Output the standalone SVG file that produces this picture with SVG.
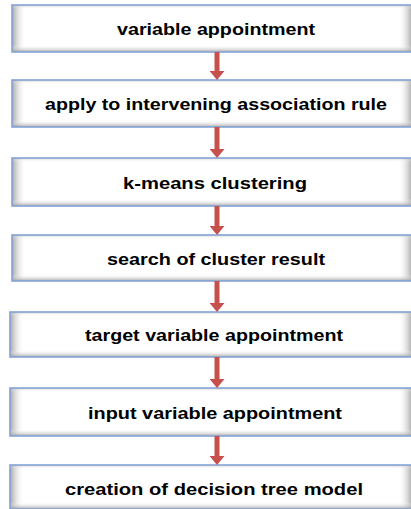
<svg xmlns="http://www.w3.org/2000/svg" width="411" height="509" viewBox="0 0 411 509">
<style>
.base{fill:#ffffff}
.sl{fill:url(#gl)}
.sr{fill:url(#gr)}
.sb{fill:url(#gb)}
.st{fill:url(#gt)}
.bd{fill:none;stroke:#86a4d6;stroke-width:1.6}
.lbl{font-family:"Liberation Sans",Arial,sans-serif;font-weight:bold;font-size:17px;fill:#000;text-anchor:middle}
.arr{stroke:#c5504c;stroke-width:5;fill:none;marker-end:url(#ah)}
</style>
<defs>
<linearGradient id="gl" x1="0" y1="0" x2="1" y2="0">
<stop offset="0" stop-color="#9a9a9a" stop-opacity="0.9"/>
<stop offset="1" stop-color="#ffffff" stop-opacity="0"/>
</linearGradient>
<linearGradient id="gr" x1="1" y1="0" x2="0" y2="0">
<stop offset="0" stop-color="#a0a0a0" stop-opacity="0.9"/>
<stop offset="1" stop-color="#ffffff" stop-opacity="0"/>
</linearGradient>
<linearGradient id="gb" x1="0" y1="1" x2="0" y2="0">
<stop offset="0" stop-color="#9a9a9a" stop-opacity="0.85"/>
<stop offset="1" stop-color="#ffffff" stop-opacity="0"/>
</linearGradient>
<linearGradient id="gt" x1="0" y1="0" x2="0" y2="1">
<stop offset="0" stop-color="#b0b0b0" stop-opacity="0.6"/>
<stop offset="1" stop-color="#ffffff" stop-opacity="0"/>
</linearGradient>
<marker id="ah" markerUnits="userSpaceOnUse" viewBox="0 0 9 15" markerWidth="9" markerHeight="15" refX="0" refY="7.5" orient="auto">
<path d="M0,0 L9,7.5 L0,15 Z" fill="#c5504c"/>
</marker>
</defs>

<g id="node1">
<rect class="base" x="12" y="5" width="400" height="47"/>
<rect class="sl" x="12" y="5" width="14" height="47"/>
<rect class="sr" x="398" y="5" width="14" height="47"/>
<rect class="st" x="12" y="5" width="400" height="4"/>
<rect class="sb" x="12" y="45" width="400" height="7"/>
<rect class="bd" x="12" y="5" width="400" height="47"/>
<text class="lbl" x="216" y="35" textLength="198" lengthAdjust="spacingAndGlyphs">variable appointment</text>
</g>

<g id="node2">
<rect class="base" x="12" y="80" width="400" height="47"/>
<rect class="sl" x="12" y="80" width="14" height="47"/>
<rect class="sr" x="398" y="80" width="14" height="47"/>
<rect class="st" x="12" y="80" width="400" height="4"/>
<rect class="sb" x="12" y="120" width="400" height="7"/>
<rect class="bd" x="12" y="80" width="400" height="47"/>
<text class="lbl" x="216" y="110" textLength="342" lengthAdjust="spacingAndGlyphs">apply to intervening association rule</text>
</g>

<g id="node3">
<rect class="base" x="12" y="158" width="400" height="48"/>
<rect class="sl" x="12" y="158" width="14" height="48"/>
<rect class="sr" x="398" y="158" width="14" height="48"/>
<rect class="st" x="12" y="158" width="400" height="4"/>
<rect class="sb" x="12" y="199" width="400" height="7"/>
<rect class="bd" x="12" y="158" width="400" height="48"/>
<text class="lbl" x="215" y="188.5" textLength="184" lengthAdjust="spacingAndGlyphs">k-means clustering</text>
</g>

<g id="node4">
<rect class="base" x="12" y="235" width="400" height="46"/>
<rect class="sl" x="12" y="235" width="14" height="46"/>
<rect class="sr" x="398" y="235" width="14" height="46"/>
<rect class="st" x="12" y="235" width="400" height="4"/>
<rect class="sb" x="12" y="274" width="400" height="7"/>
<rect class="bd" x="12" y="235" width="400" height="46"/>
<text class="lbl" x="216" y="264.5" textLength="218" lengthAdjust="spacingAndGlyphs">search of cluster result</text>
</g>

<g id="node5">
<rect class="base" x="10" y="312" width="402" height="45"/>
<rect class="sl" x="10" y="312" width="14" height="45"/>
<rect class="sr" x="398" y="312" width="14" height="45"/>
<rect class="st" x="10" y="312" width="402" height="4"/>
<rect class="sb" x="10" y="350" width="402" height="7"/>
<rect class="bd" x="10" y="312" width="402" height="45"/>
<text class="lbl" x="214" y="341" textLength="258" lengthAdjust="spacingAndGlyphs">target variable appointment</text>
</g>

<g id="node6">
<rect class="base" x="10" y="388" width="402" height="48"/>
<rect class="sl" x="10" y="388" width="14" height="48"/>
<rect class="sr" x="398" y="388" width="14" height="48"/>
<rect class="st" x="10" y="388" width="402" height="4"/>
<rect class="sb" x="10" y="429" width="402" height="7"/>
<rect class="bd" x="10" y="388" width="402" height="48"/>
<text class="lbl" x="215" y="418.5" textLength="254" lengthAdjust="spacingAndGlyphs">input variable appointment</text>
</g>

<g id="node7">
<rect class="base" x="10" y="465" width="402" height="44"/>
<rect class="sl" x="10" y="465" width="14" height="44"/>
<rect class="sr" x="398" y="465" width="14" height="44"/>
<rect class="st" x="10" y="465" width="402" height="4"/>
<rect class="sb" x="10" y="502" width="402" height="7"/>
<rect class="bd" x="10" y="465" width="402" height="44"/>
<text class="lbl" x="214" y="494.5" textLength="298" lengthAdjust="spacingAndGlyphs">creation of decision tree model</text>
</g>

<g id="connectors">
<path class="arr" d="M217,52 V71"/>
<path class="arr" d="M217,127 V149"/>
<path class="arr" d="M217,206 V226"/>
<path class="arr" d="M217,281 V303"/>
<path class="arr" d="M217,357 V379"/>
<path class="arr" d="M217,436 V456"/>
</g>
</svg>
